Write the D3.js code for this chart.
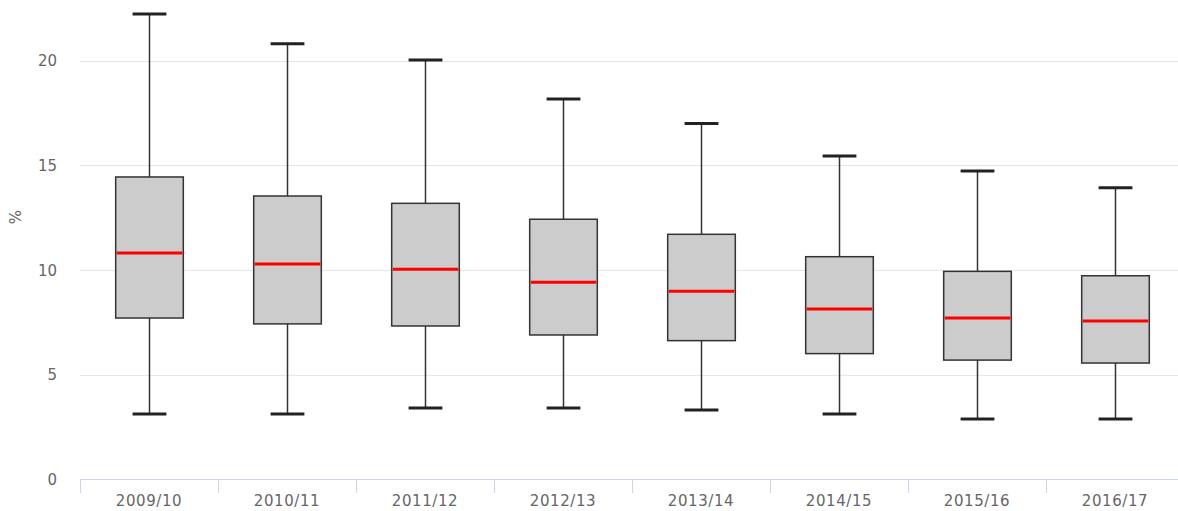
<!DOCTYPE html>
<html>
<head>
<meta charset="utf-8">
<script src="https://cdn.jsdelivr.net/npm/d3@7"></script>
<style>
  html, body { margin: 0; padding: 0; background: #fff; }
  svg { display: block; }
  text { font-family: "DejaVu Sans", sans-serif; fill: #666; }
</style>
</head>
<body>
<svg id="chart" width="1178" height="511"></svg>
<script>
const categories = ["2009/10","2010/11","2011/12","2012/13","2013/14","2014/15","2015/16","2016/17"];
const lowValues    = [3.12, 3.12, 3.41, 3.41, 3.32, 3.12, 2.89, 2.89];
const q1Values     = [7.71, 7.43, 7.33, 6.90, 6.63, 6.01, 5.70, 5.56];
const medianValues = [10.82, 10.29, 10.04, 9.42, 8.99, 8.14, 7.71, 7.57];
const q3Values     = [14.45, 13.54, 13.19, 12.43, 11.71, 10.64, 9.94, 9.73];
const highValues   = [22.24, 20.82, 20.04, 18.18, 17.00, 15.45, 14.73, 13.94];
const yTicks = [0, 5, 10, 15, 20];
const yLabel = "%";

const data = categories.map((c, i) => ({
  cat: c, low: lowValues[i], q1: q1Values[i], med: medianValues[i], q3: q3Values[i], high: highValues[i]
}));

const svg = d3.select("#chart");
const left = 80, right = 1184, axisRight = 1178;

const x = d3.scaleBand().domain(categories).range([left, right]).padding(0);
const y = d3.scaleLinear().domain([0, 20]).range([479.4, 60.8]);

// gridlines
svg.append("g").selectAll("line").data(yTicks.filter(t => t > 0)).join("line")
  .attr("x1", left).attr("x2", axisRight)
  .attr("y1", d => Math.round(y(d)) + 0.5).attr("y2", d => Math.round(y(d)) + 0.5)
  .attr("stroke", "#e6e6e6").attr("stroke-width", 1);

// y labels
svg.append("g").selectAll("text").data(yTicks).join("text")
  .attr("x", 57).attr("y", d => y(d) + 5.5)
  .attr("text-anchor", "end").attr("font-size", 15)
  .text(d => d);

// y axis title
svg.append("text")
  .attr("transform", "translate(21,217) rotate(-90)")
  .attr("text-anchor", "middle").attr("font-size", 15)
  .text(yLabel);

// x axis line
svg.append("line")
  .attr("x1", left).attr("x2", axisRight)
  .attr("y1", 479.5).attr("y2", 479.5)
  .attr("stroke", "#ccd6eb").attr("stroke-width", 1);

// x ticks at band boundaries
const boundaries = categories.map(c => x(c));
svg.append("g").selectAll("line").data(boundaries).join("line")
  .attr("x1", d => Math.round(d) + 0.5).attr("x2", d => Math.round(d) + 0.5)
  .attr("y1", 479).attr("y2", 493)
  .attr("stroke", "#ccd6eb").attr("stroke-width", 1);

// x labels
svg.append("g").selectAll("text").data(categories).join("text")
  .attr("x", d => x(d) + x.bandwidth() / 2)
  .attr("y", 506)
  .attr("text-anchor", "middle").attr("font-size", 15)
  .attr("letter-spacing", 0.6)
  .text(d => d);

const boxW = x.bandwidth() * 0.49;
const capW = boxW / 2;

const g = svg.append("g").selectAll("g").data(data).join("g");
const cx = d => Math.round(x(d.cat) + x.bandwidth() / 2) + 0.5;

// whisker stems
g.append("line")
  .attr("x1", cx).attr("x2", cx)
  .attr("y1", d => y(d.high)).attr("y2", d => y(d.q3))
  .attr("stroke", "#333").attr("stroke-width", 1.5);
g.append("line")
  .attr("x1", cx).attr("x2", cx)
  .attr("y1", d => y(d.q1)).attr("y2", d => y(d.low))
  .attr("stroke", "#333").attr("stroke-width", 1.5);

// caps
g.append("line")
  .attr("x1", d => cx(d) - capW / 2).attr("x2", d => cx(d) + capW / 2)
  .attr("y1", d => y(d.high)).attr("y2", d => y(d.high))
  .attr("stroke", "#222").attr("stroke-width", 3);
g.append("line")
  .attr("x1", d => cx(d) - capW / 2).attr("x2", d => cx(d) + capW / 2)
  .attr("y1", d => y(d.low)).attr("y2", d => y(d.low))
  .attr("stroke", "#222").attr("stroke-width", 3);

// boxes
g.append("rect")
  .attr("x", d => cx(d) - boxW / 2)
  .attr("width", boxW)
  .attr("y", d => y(d.q3))
  .attr("height", d => y(d.q1) - y(d.q3))
  .attr("fill", "#cccccc").attr("stroke", "#333").attr("stroke-width", 1.5);

// medians
g.append("line")
  .attr("x1", d => cx(d) - boxW / 2 + 1).attr("x2", d => cx(d) + boxW / 2 - 1)
  .attr("y1", d => y(d.med)).attr("y2", d => y(d.med))
  .attr("stroke", "#ff0000").attr("stroke-width", 3);
</script>
</body>
</html>
